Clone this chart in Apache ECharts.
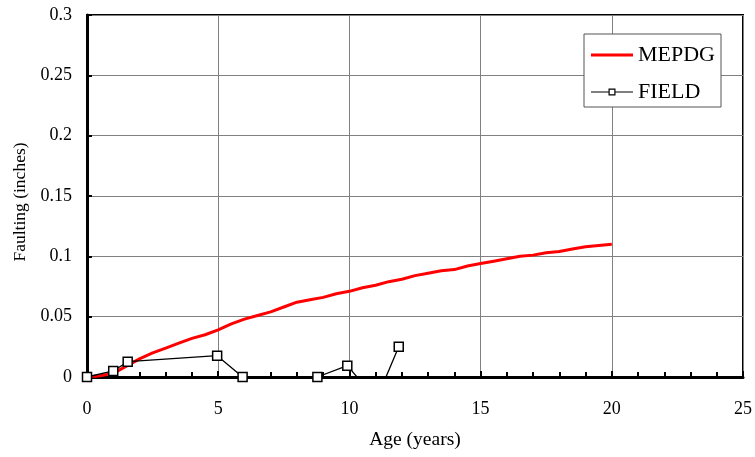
<!DOCTYPE html>
<html>
<head>
<meta charset="utf-8">
<script src="https://cdn.jsdelivr.net/npm/echarts@6/dist/echarts.min.js"></script>
<style>
html,body{margin:0;padding:0;background:#fff;}
#chart{width:755px;height:457px;}
</style>
</head>
<body>
<div id="chart"></div>
<script>
// MEPDG predicted faulting (age in years, faulting in inches)
const mepdgAge = [0,0.5,1,1.5,2,2.5,3,3.5,4,4.5,5,5.5,6,6.5,7,7.5,8,8.5,9,9.5,10,10.5,11,11.5,12,12.5,13,13.5,14,14.5,15,15.5,16,16.5,17,17.5,18,18.5,19,19.5,20];
const mepdgFault = [0,0.001,0.003,0.009,0.015,0.020,0.024,0.028,0.032,0.035,0.039,0.044,0.048,0.051,0.054,0.058,0.062,0.064,0.066,0.069,0.071,0.074,0.076,0.079,0.081,0.084,0.086,0.088,0.089,0.092,0.094,0.096,0.098,0.100,0.101,0.103,0.104,0.106,0.108,0.109,0.110];
// FIELD measured faulting
const fieldAge = [0,1.0,1.55,4.96,5.93,8.78,9.92,11.03,11.88];
const fieldFault = [0,0.005,0.0127,0.0177,0,0,0.0094,-0.0187,0.025];

const seriesNames = ['MEPDG','FIELD'];
const xTicks = {min:0,max:25,interval:5};
const yTicks = {min:0,max:0.3,interval:0.05};

const font = "'Liberation Serif','Times New Roman',serif";
// legend icons (42 x 14 box)
const iconMEPDG = 'path://M0,0L0,0M42,14L42,14M0,5.5H42V8.5H0Z';
const iconFIELD = 'path://M0,0L0,0M42,14L42,14M0,6.4H17.5V7.6H0ZM24.5,6.4H42V7.6H24.5ZM17.5,3.5H24.5V10.5H17.5ZM18.7,4.7V9.3H23.3V4.7Z';

const chart = echarts.init(document.getElementById('chart'));
chart.setOption({
  animation:false,
  backgroundColor:'#fff',
  textStyle:{fontFamily:font,color:'#000'},
  grid:{left:87,right:12,top:15,bottom:80,show:true,borderColor:'#000',borderWidth:2,backgroundColor:'transparent'},
  legend:{
    orient:'vertical',left:584,top:34,
    padding:[10,6,4,7],itemGap:15,itemWidth:42,itemHeight:14,
    backgroundColor:'#fff',borderColor:'#555',borderWidth:1,borderRadius:0,
    textStyle:{fontFamily:font,fontSize:22,color:'#000'},
    data:[
      {name:seriesNames[0],icon:iconMEPDG,itemStyle:{color:'#ff0000',borderWidth:0,borderColor:'transparent'}},
      {name:seriesNames[1],icon:iconFIELD,itemStyle:{color:'#000',borderWidth:0,borderColor:'transparent'}}
    ]
  },
  xAxis:{
    type:'value',min:xTicks.min,max:xTicks.max,interval:xTicks.interval,
    name:'Age (years)',nameLocation:'middle',nameGap:53,
    nameTextStyle:{fontFamily:font,fontSize:19.5,color:'#000'},
    axisLine:{show:true,onZero:false,lineStyle:{color:'#000',width:3}},
    axisTick:{show:true,inside:true,length:6,lineStyle:{color:'#000',width:2}},
    minorTick:{show:true,splitNumber:5,length:5,lineStyle:{color:'#000',width:2}},
    axisLabel:{fontFamily:font,fontSize:18,color:'#000',margin:23},
    splitLine:{show:true,lineStyle:{color:'#808080',width:1}}
  },
  yAxis:{
    type:'value',min:yTicks.min,max:yTicks.max,interval:yTicks.interval,
    name:'Faulting (inches)',nameLocation:'middle',nameGap:58,
    nameTextStyle:{fontFamily:font,fontSize:17.5,color:'#000',padding:[0,12,0,0]},
    axisLine:{show:true,onZero:false,lineStyle:{color:'#000',width:3}},
    axisTick:{show:true,inside:true,length:5,lineStyle:{color:'#000',width:2}},
    axisLabel:{fontFamily:font,fontSize:18,color:'#000',margin:15},
    splitLine:{show:true,lineStyle:{color:'#808080',width:1}}
  },
  series:[
    {name:seriesNames[0],type:'line',symbol:'none',clip:true,
     lineStyle:{color:'#ff0000',width:3},itemStyle:{color:'#ff0000'},
     data:mepdgAge.map((a,i)=>[a,mepdgFault[i]]),z:3},
    {name:seriesNames[1],type:'line',symbol:'rect',symbolSize:9,clip:true,
     lineStyle:{color:'#000',width:1.3},
     itemStyle:{color:'#fff',borderColor:'#000',borderWidth:1.5},
     data:fieldAge.map((a,i)=>[a,fieldFault[i]]),z:4}
  ]
});
</script>
</body>
</html>
